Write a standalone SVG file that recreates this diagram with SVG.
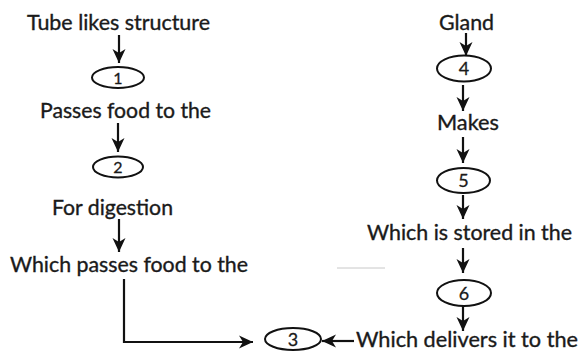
<svg xmlns="http://www.w3.org/2000/svg" width="583" height="353" viewBox="0 0 583 353">
<defs>
<style>
.t{font-family:Lato,"Open Sans","Liberation Sans",sans-serif;font-size:21px;fill:#1a1a1a;stroke:#1a1a1a;stroke-width:0.35}
.n{font-family:Lato,"Open Sans","Liberation Sans",sans-serif;font-size:18px;fill:#1a1a1a;text-anchor:middle;stroke:#1a1a1a;stroke-width:0.3}
.s{font-size:16px}
.e{fill:none;stroke:#111;stroke-width:2}
.c{fill:none;stroke:#111;stroke-width:2.2}
</style>
<marker id="ah" markerUnits="userSpaceOnUse" markerWidth="16" markerHeight="16" viewBox="0 0 16 16" refX="15" refY="8" orient="auto">
<path d="M1,1.5 L15,8 L1,14.5 L5,8 Z" fill="#111"/>
</marker>
</defs>
<rect width="583" height="353" fill="#fff"/>
<g id="t_tube"><text class="t" x="27" y="30" textLength="183" lengthAdjust="spacingAndGlyphs">Tube likes structure</text></g>
<g id="n1"><ellipse class="e" cx="118" cy="77.5" rx="26" ry="10.5"/><text class="n s" x="118" y="83.5">1</text></g>
<g id="t_passes"><text class="t" x="40" y="118" textLength="171" lengthAdjust="spacingAndGlyphs">Passes food to the</text></g>
<g id="n2"><ellipse class="e" cx="118" cy="167" rx="25" ry="10.5"/><text class="n s" x="118" y="173">2</text></g>
<g id="t_digestion"><text class="t" x="52" y="215" textLength="121" lengthAdjust="spacingAndGlyphs">For digestion</text></g>
<g id="t_whichpasses"><text class="t" x="10" y="272" textLength="238" lengthAdjust="spacingAndGlyphs">Which passes food to the</text></g>
<g id="n3"><ellipse class="e" cx="293" cy="339" rx="28" ry="11"/><text class="n" x="293" y="345.5">3</text></g>
<g id="t_gland"><text class="t" x="439" y="30" textLength="55" lengthAdjust="spacingAndGlyphs">Gland</text></g>
<g id="n4"><ellipse class="e" cx="464" cy="68.5" rx="27" ry="13"/><text class="n" x="464" y="75">4</text></g>
<g id="t_makes"><text class="t" x="437" y="130" textLength="62" lengthAdjust="spacingAndGlyphs">Makes</text></g>
<g id="n5"><ellipse class="e" cx="463.5" cy="180.5" rx="26.5" ry="12.5"/><text class="n" x="463.5" y="187">5</text></g>
<g id="t_stored"><text class="t" x="367" y="240" textLength="205" lengthAdjust="spacingAndGlyphs">Which is stored in the</text></g>
<g id="n6"><ellipse class="e" cx="464" cy="293" rx="27" ry="13"/><text class="n" x="464" y="299.5">6</text></g>
<g id="t_delivers"><text class="t" x="356" y="347" textLength="222" lengthAdjust="spacingAndGlyphs">Which delivers it to the</text></g>
<g id="connectors" class="c">
<path class="c" d="M119,35 V63" marker-end="url(#ah)"/>
<path class="c" d="M118,123 V152" marker-end="url(#ah)"/>
<path class="c" d="M119,219 V252" marker-end="url(#ah)"/>
<path class="c" d="M124,279 V342 H253" marker-end="url(#ah)"/>
<path class="c" d="M466,33 V56" marker-end="url(#ah)"/>
<path class="c" d="M463,85 V111" marker-end="url(#ah)"/>
<path class="c" d="M463,137 V163" marker-end="url(#ah)"/>
<path class="c" d="M463,195 V219" marker-end="url(#ah)"/>
<path class="c" d="M463,248 V273" marker-end="url(#ah)"/>
<path class="c" d="M463,306 V331" marker-end="url(#ah)"/>
<path class="c" d="M354,341 H322" marker-end="url(#ah)"/>
</g>
<line x1="337" y1="268" x2="385" y2="268" stroke="#c8c8c8" stroke-width="1"/>
</svg>
